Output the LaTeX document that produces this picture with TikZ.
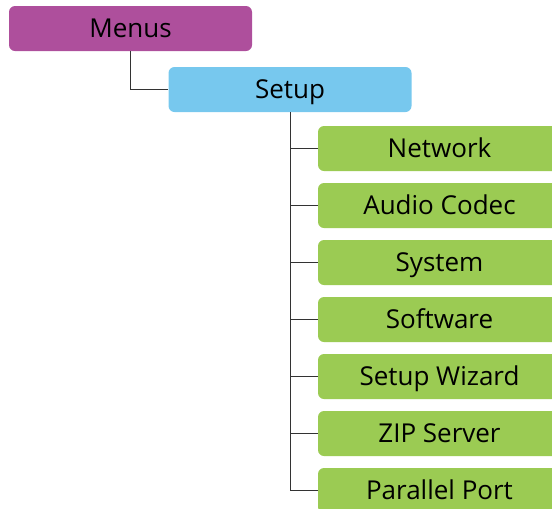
\documentclass[tikz,border=0pt]{standalone}
\usepackage{fontspec}
\setmainfont{Open Sans}
\definecolor{menupurple}{HTML}{AE4F9C}
\definecolor{setupblue}{HTML}{77C8EE}
\definecolor{itemgreen}{HTML}{9BCB53}
\begin{document}
\begin{tikzpicture}[x=1pt, y=-1pt,
    box/.style={rounded corners=6pt, minimum width=243pt, minimum height=45pt,
      inner sep=0pt, text height=18.5pt, text depth=0pt,
      font=\fontsize{26}{30}\selectfont},
    link/.style={draw=black!80, line width=0.9pt}]
    \useasboundingbox (0,0) rectangle (552,509);
    \clip (0,0) rectangle (552,509);
    % --- top levels ---
    \node[box, fill=menupurple] (menus) at (130.5,28.5) {Menus};
    \node[box, fill=setupblue]  (setup) at (290,89.5)  {Setup};
    \draw[link] (menus.south) |- (setup.west);
    % --- setup entries ---
    \foreach \name [count=\i from 0] in {Network, Audio Codec, System, Software,
        Setup Wizard, ZIP Server, Parallel Port} {
      \node[box, fill=itemgreen] (item\i) at (439.5,148.5+57*\i) {\name};
      \draw[link] (setup.south) |- (item\i.west);
    }
\end{tikzpicture}
\end{document}
